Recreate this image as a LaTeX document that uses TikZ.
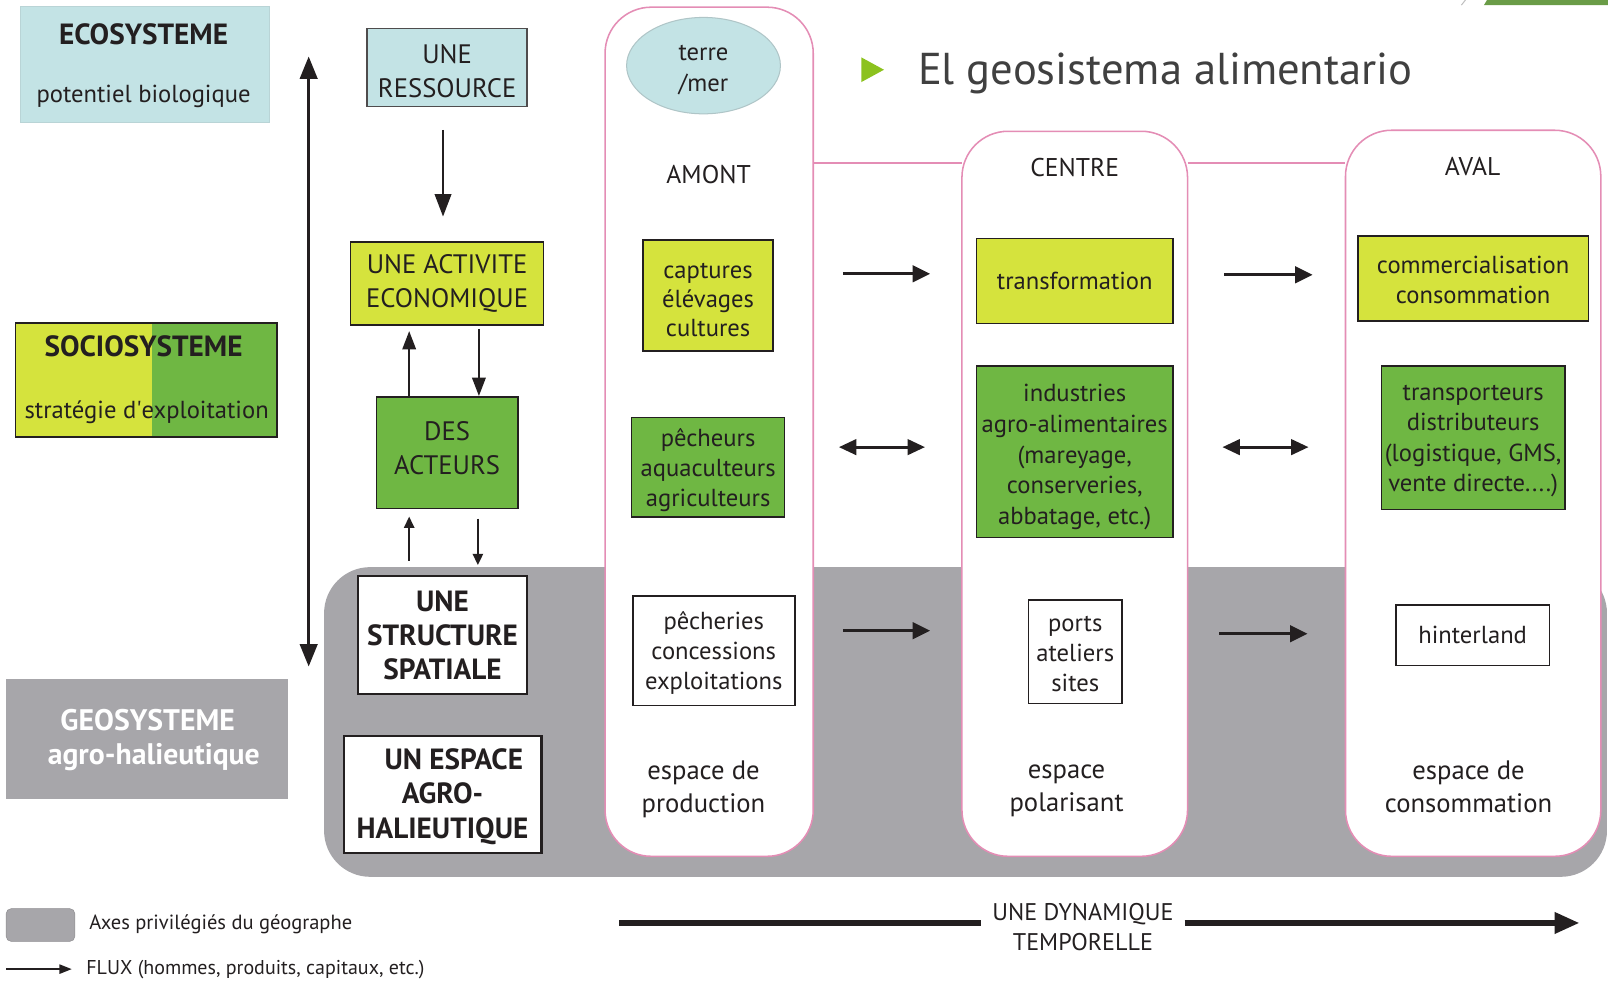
\documentclass[tikz,border=0pt]{standalone}
\usepackage{fontspec}
\setmainfont{PT Sans}
\usetikzlibrary{arrows.meta,shapes.geometric}
\definecolor{ecoblue}{HTML}{C3E3E5}
\definecolor{lime}{HTML}{D5E33D}
\definecolor{leaf}{HTML}{6FB743}
\definecolor{geogrey}{HTML}{A7A6AA}
\definecolor{rose}{HTML}{E48DB5}
\definecolor{ink}{HTML}{231F20}
\definecolor{titlegrey}{HTML}{404040}
\definecolor{bullet}{HTML}{8CC21E}
\definecolor{slidegreen}{HTML}{6A9C47}
\newcommand{\fsz}[2]{\fontsize{#1}{#2}\selectfont}
\newcommand{\lift}[1]{\rule{0pt}{#1}}

\begin{document}
\begin{tikzpicture}[x=1pt,y=-1pt,
  box/.style={draw=ink,line width=1.5pt,align=center,inner sep=0pt,text=ink,font={\fsz{24}{29.5}}},
  capbox/.style={box,font={\fsz{26}{33}}},
  boldbox/.style={box,line width=2pt,fill=white,font={\bfseries\fsz{28.5}{33.5}}},
  raised/.style={execute at end node={\rule[-#1]{0pt}{#1}}},
  lbl/.style={align=center,inner sep=0pt,text=ink,font={\fsz{25}{32}}},
  head/.style={inner sep=0pt,text=ink,font={\bfseries\fsz{28.5}{32}}},
  column/.style={draw=rose,line width=1.5pt,fill=white,rounded corners=45pt},
  flow/.style={-{Triangle[length=17pt,width=16pt]},line width=3pt,ink},
  twoway/.style={{Triangle[length=17pt,width=15pt]}-{Triangle[length=17pt,width=15pt]},line width=3pt,ink},
  link/.style={-{Triangle[length=18pt,width=13pt]},line width=2.5pt,ink},
  thinlink/.style={-{Triangle[length=11pt,width=10pt]},line width=2pt,ink}]

\useasboundingbox (0,0) rectangle (1568,956);

% fond gris et colonnes
\fill[geogrey,rounded corners=45pt] (316,553) rectangle (1567,855);
\draw[column] (590,7) rectangle (793,835);
\draw[column] (938,128) rectangle (1158,835);
\draw[column] (1312,127) rectangle (1561,835);
\draw[rose,line width=1.5pt] (793,159) -- (938,159);
\draw[rose,line width=1.5pt] (1158,159) -- (1312,159);

\fill[slidegreen] (1450,0) -- (1568,0) -- (1568,5) -- (1447,5) -- cycle;
\draw[gray!50,line width=1pt] (1429,0) -- (1425,5);

% titre
\fill[bullet] (840,56) -- (862,68) -- (840,80) -- cycle;
\node[anchor=west,inner sep=0pt,text=titlegrey,font={\fsz{43.5}{50}}] (title) at (895,72) {El geosistema alimentario};

% systemes
\node[fill=ecoblue,draw=ecoblue!85!gray,line width=0.5pt,minimum width=243pt,minimum height=113pt] (eco) at (141.5,62.5) {};
\node[head] (ecot) at (140,33) {ECOSYSTEME};
\node[lbl,font={\fsz{24}{30}}] (ecos) at (140,94) {potentiel biologique};

\node[draw=ink,line width=1.5pt,fill=leaf,minimum width=255pt,minimum height=111pt,
  path picture={\fill[lime] (path picture bounding box.north west) rectangle ([xshift=5.5pt]path picture bounding box.south);}] (socio) at (142.5,370.5) {};
\node[head] (sociot) at (140,338) {SOCIOSYSTEME};
\node[lbl,font={\fsz{24}{30}}] (socios) at (143,402) {stratégie d\textquotesingle exploitation};

\node[fill=geogrey,minimum width=275pt,minimum height=117pt] (geo) at (143.5,720.5) {};
\node[head,text=white,font={\bfseries\fsz{29}{32}}] (geot) at (144,702) {GEOSYSTEME};
\node[head,text=white,font={\bfseries\fsz{29}{32}}] (geos) at (150,738) {agro-halieutique};

\coordinate (axtop) at (301,55);
\coordinate (axbot) at (301,650);
\draw[{Triangle[length=22pt,width=17pt]}-{Triangle[length=22pt,width=17pt]},line width=3pt,ink] (axtop) -- (axbot);

% chaine de gauche
\node[capbox,fill=ecoblue,draw=ink!80,minimum width=156pt,minimum height=76pt] (ressource) at (436,66) {\lift{25pt}UNE\\RESSOURCE};
\node[capbox,fill=lime,minimum width=188pt,minimum height=81pt] (activite) at (436,276.5) {UNE ACTIVITE\\ECONOMIQUE};
\node[capbox,raised=10pt,fill=leaf,minimum width=138pt,minimum height=109pt] (acteurs) at (436,441.5) {DES\\ACTEURS};
\node[boldbox,minimum width=165pt,minimum height=115pt] (structure) at (431.5,619.5) {UNE\\STRUCTURE\\SPATIALE};
\node[boldbox,minimum width=193pt,minimum height=114pt] (espace) at (431.5,775) {\lift{24pt}\hspace*{22pt}UN ESPACE\\AGRO-\\HALIEUTIQUE};

\draw[-{Triangle[length=22pt,width=16pt]},line width=2.5pt,ink,shorten <=22pt,shorten >=24pt] ([xshift=-4pt]ressource.south) -- ([xshift=-4pt]activite.north);
\draw[link,shorten >=5pt] ([xshift=-37pt]acteurs.north) -- ([xshift=-37pt]activite.south);
\draw[link,shorten <=3pt] ([xshift=31pt]activite.south) -- ([xshift=31pt]acteurs.north);
\draw[thinlink,shorten <=14pt,shorten >=7pt] ([xshift=-32.5pt]structure.north) -- ([xshift=-37pt]acteurs.south);
\draw[thinlink,shorten <=9pt,shorten >=10pt] ([xshift=30pt]acteurs.south) -- ([xshift=34.5pt]structure.north);

% amont
\node[ellipse,fill=ecoblue,draw=ecoblue!70!gray,line width=1pt,minimum width=150pt,minimum height=94pt,align=center,inner sep=0pt,text=ink,font={\fsz{24}{30}}] (terre) at (686,64) {\lift{23pt}terre\\/mer};
\node[lbl] (amont) at (691,170) {AMONT};
\node[box,fill=lime,minimum width=127pt,minimum height=108pt,font={\fsz{24}{28.5}}] (captures) at (690.5,288) {\lift{24pt}captures\\élévages\\cultures};
\node[box,fill=leaf,minimum width=149pt,minimum height=97pt] (pecheurs) at (690.5,455.5) {\lift{23pt}pêcheurs\\aquaculteurs\\agriculteurs};
\node[box,fill=white,minimum width=158pt,minimum height=107pt] (pecheries) at (696,634.5) {\lift{22pt}pêcheries\\concessions\\exploitations};
\node[lbl,font={\fsz{26}{32}}] (production) at (686,770) {espace de\\production};

% centre
\node[lbl] (centre) at (1048,163) {CENTRE};
\node[box,fill=lime,minimum width=192pt,minimum height=83pt] (transformation) at (1048,274) {transformation};
\node[box,fill=leaf,minimum width=192pt,minimum height=167pt,font={\fsz{24}{30}}] (industries) at (1048,440.5) {\lift{27.5pt}industries\\agro-alimentaires\\(mareyage,\\conserveries,\\abbatage, etc.)};
\node[box,fill=white,minimum width=91pt,minimum height=101pt] (ports) at (1048.5,635.5) {\lift{19pt}ports\\ateliers\\sites};
\node[lbl,font={\fsz{26}{32}}] (polarisant) at (1040,771) {espace\\polarisant};

% aval
\node[lbl] (aval) at (1436,162) {AVAL};
\node[box,fill=lime,minimum width=225pt,minimum height=83pt] (commerce) at (1436.5,271.5) {\lift{20.5pt}commercialisation\\consommation};
\node[box,fill=leaf,minimum width=179pt,minimum height=140pt] (transport) at (1436.5,427) {\lift{21pt}transporteurs\\distributeurs\\(logistique, GMS,\\vente directe....)};
\node[box,fill=white,minimum width=150pt,minimum height=59pt] (hinterland) at (1436,619.5) {hinterland};
\node[lbl,font={\fsz{26}{32}}] (consommation) at (1432,767) {espace de\\consommation};

% flux entre colonnes
\coordinate (f1s) at (822,267);  \coordinate (f1e) at (907,267);
\coordinate (f2s) at (818,436);  \coordinate (f2e) at (902,436);
\coordinate (f3s) at (822,615);  \coordinate (f3e) at (907,615);
\coordinate (g1s) at (1194,268); \coordinate (g1e) at (1280,268);
\coordinate (g2s) at (1192,436); \coordinate (g2e) at (1276,436);
\coordinate (g3s) at (1189,618); \coordinate (g3e) at (1275,618);
\draw[flow] (f1s) -- (f1e);
\draw[twoway] (f2s) -- (f2e);
\draw[flow] (f3s) -- (f3e);
\draw[flow] (g1s) -- (g1e);
\draw[twoway] (g2s) -- (g2e);
\draw[flow] (g3s) -- (g3e);

% legende
\node[fill=geogrey,draw=geogrey!85!black,line width=0.5pt,rounded corners=5pt,minimum width=67pt,minimum height=32pt] (legaxes) at (39.5,902) {};
\node[anchor=west,inner sep=0pt,text=ink,font={\fsz{20}{24}}] (legaxest) at (87,901) {Axes privilégiés du géographe};
\coordinate (lgs) at (6,945);
\coordinate (lge) at (70,945);
\draw[-{Triangle[length=12pt,width=9pt]},line width=1.5pt,ink] (lgs) -- (lge);
\node[anchor=west,inner sep=0pt,text=ink,font={\fsz{19.5}{24}}] (legflux) at (84,945) {FLUX (hommes, produits, capitaux, etc.)};

% dynamique temporelle
\node[align=center,inner sep=0pt,text=ink,font={\fsz{23.5}{30}},minimum width=198pt] (dyn) at (1056,904) {UNE DYNAMIQUE\\TEMPORELLE};
\coordinate (dynstart) at (604,900);
\coordinate (dynend) at (1540,900);
\draw[line width=5pt,ink] (dynstart) -- (dynstart -| dyn.west);
\draw[-{Triangle[length=24pt,width=20pt]},line width=5pt,ink] (dynend -| dyn.east) -- (dynend);

\end{tikzpicture}
\end{document}
